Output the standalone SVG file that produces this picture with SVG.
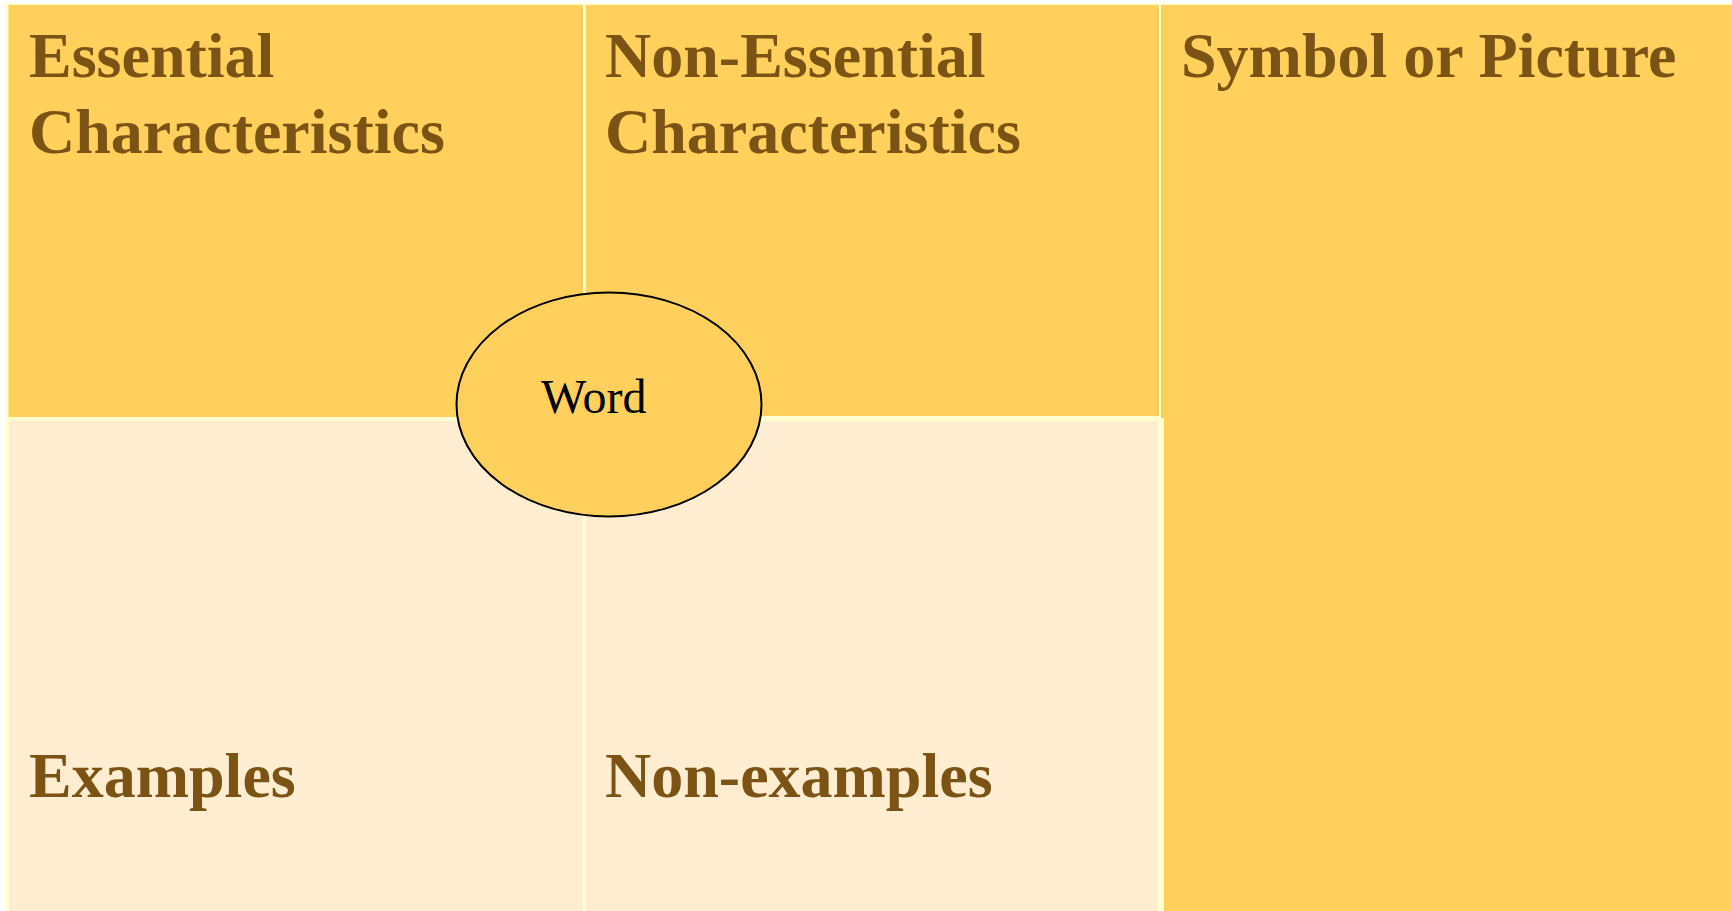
<svg xmlns="http://www.w3.org/2000/svg" width="1732" height="911" viewBox="0 0 1732 911">
  <style>
    .dark { fill: #FFD05C; }
    .light { fill: #FFEDD1; }
    .head { font-family: "Liberation Serif", "Times New Roman", serif; font-weight: bold; font-size: 64px; fill: #7B5314; }
    .word { font-family: "Liberation Serif", "Times New Roman", serif; font-size: 48px; fill: #000000; }
  </style>
  <rect x="0" y="0" width="1732" height="911" fill="#FFFFFF"/>
  <rect x="6" y="3" width="1726" height="908" fill="#FFFFD0"/>
  <g id="essential">
    <rect class="dark" x="8.5" y="5" width="574.5" height="412"/>
    <text class="head" x="29" y="77">Essential</text>
    <text class="head" x="29" y="153">Characteristics</text>
  </g>
  <g id="non-essential">
    <rect class="dark" x="586" y="5" width="573" height="411"/>
    <text class="head" x="605" y="77">Non-Essential</text>
    <text class="head" x="605" y="153">Characteristics</text>
  </g>
  <g id="symbol">
    <path class="dark" d="M1161 5 H1732 V911 H1164 V418 H1161 Z"/>
    <text class="head" x="1181" y="77">Symbol or Picture</text>
  </g>
  <g id="examples">
    <rect class="light" x="9" y="421" width="574" height="490"/>
    <text class="head" x="29" y="797">Examples</text>
  </g>
  <g id="non-examples">
    <rect class="light" x="586" y="421" width="571" height="490"/>
    <text class="head" x="605" y="797">Non-examples</text>
  </g>
  <g id="connectors"></g>
  <g id="word">
    <ellipse cx="609" cy="404.5" rx="152.5" ry="112" fill="#FFD05C" stroke="#000000" stroke-width="2"/>
    <text class="word" x="541" y="413">Word</text>
  </g>
</svg>
